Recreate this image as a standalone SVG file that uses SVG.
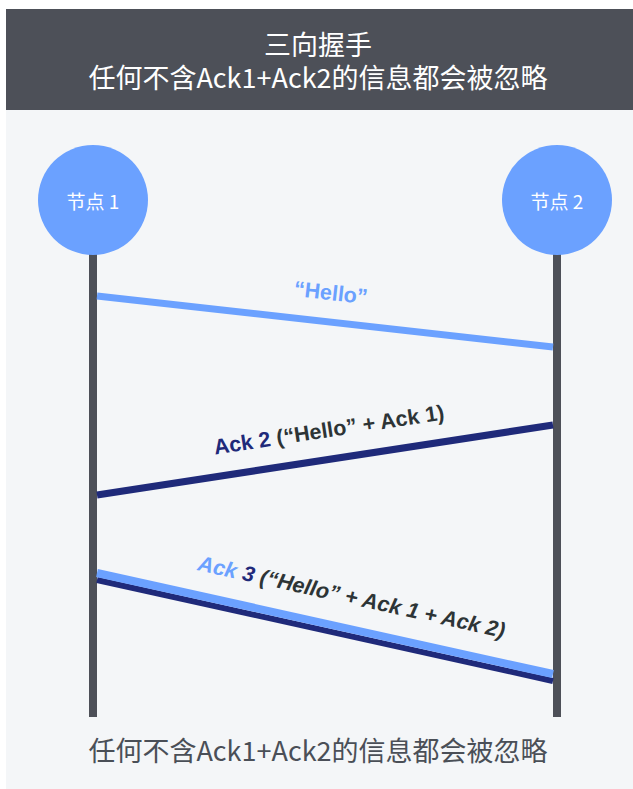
<svg xmlns="http://www.w3.org/2000/svg" width="633" height="789" viewBox="0 0 633 789">
<style>
.cjk{font-family:"Noto Sans CJK SC","Noto Sans",sans-serif;}
.hdr{fill:#ffffff;font-size:27px;text-anchor:middle;}
.node{fill:#6ba1ff;}
.nlabel{fill:#ffffff;font-size:19px;text-anchor:middle;dominant-baseline:central;}
.life{stroke:#4d5058;stroke-width:8;}
.lbl{font-family:"Liberation Sans",Arial,sans-serif;font-weight:bold;font-size:21.5px;text-anchor:middle;}
</style>
<rect x="0" y="0" width="633" height="789" fill="#ffffff"/>
<rect x="6" y="110" width="627" height="679" fill="#f4f6f8"/>
<g id="header">
<rect x="6" y="9" width="627" height="101" fill="#4d5058"/>
<text class="cjk hdr" x="318" y="55">三向握手</text>
<text class="cjk hdr" x="318" y="88">任何不含Ack1+Ack2的信息都会被忽略</text>
</g>
<g id="lifelines">
<line class="life" x1="93" y1="250" x2="93" y2="717"/>
<line class="life" x1="557" y1="250" x2="557" y2="717"/>
</g>
<g id="node1">
<circle class="node" cx="93" cy="200" r="55"/>
<text class="cjk nlabel" x="93" y="200">节点 1</text>
</g>
<g id="node2">
<circle class="node" cx="557" cy="200" r="55"/>
<text class="cjk nlabel" x="557" y="200">节点 2</text>
</g>
<g id="connectors">
<line x1="97" y1="296" x2="553" y2="347" stroke="#6ba1ff" stroke-width="7"/>
<line x1="97" y1="495" x2="553" y2="425" stroke="#1f2a7a" stroke-width="7"/>
<line x1="97" y1="580" x2="553" y2="681" stroke="#1f2a7a" stroke-width="6"/>
<line x1="97" y1="573" x2="553" y2="674" stroke="#6ba1ff" stroke-width="8"/>
</g>
<g id="labels">
<text class="lbl" fill="#6ba1ff" transform="translate(330,300) rotate(6.4)">“Hello”</text>
<text class="lbl" fill="#2d3436" transform="translate(330,437) rotate(-8.7)"><tspan fill="#1f2a7a">Ack 2</tspan> (“Hello” + Ack 1)</text>
<text class="lbl" fill="#2d3436" font-style="italic" transform="translate(350,604) rotate(12.5)"><tspan fill="#6ba1ff">Ack</tspan> <tspan fill="#1f2a7a">3</tspan> (“Hello” + Ack 1 + Ack 2)</text>
</g>
<text class="cjk" x="318" y="761" font-size="27" fill="#4a4f57" text-anchor="middle">任何不含Ack1+Ack2的信息都会被忽略</text>
</svg>
